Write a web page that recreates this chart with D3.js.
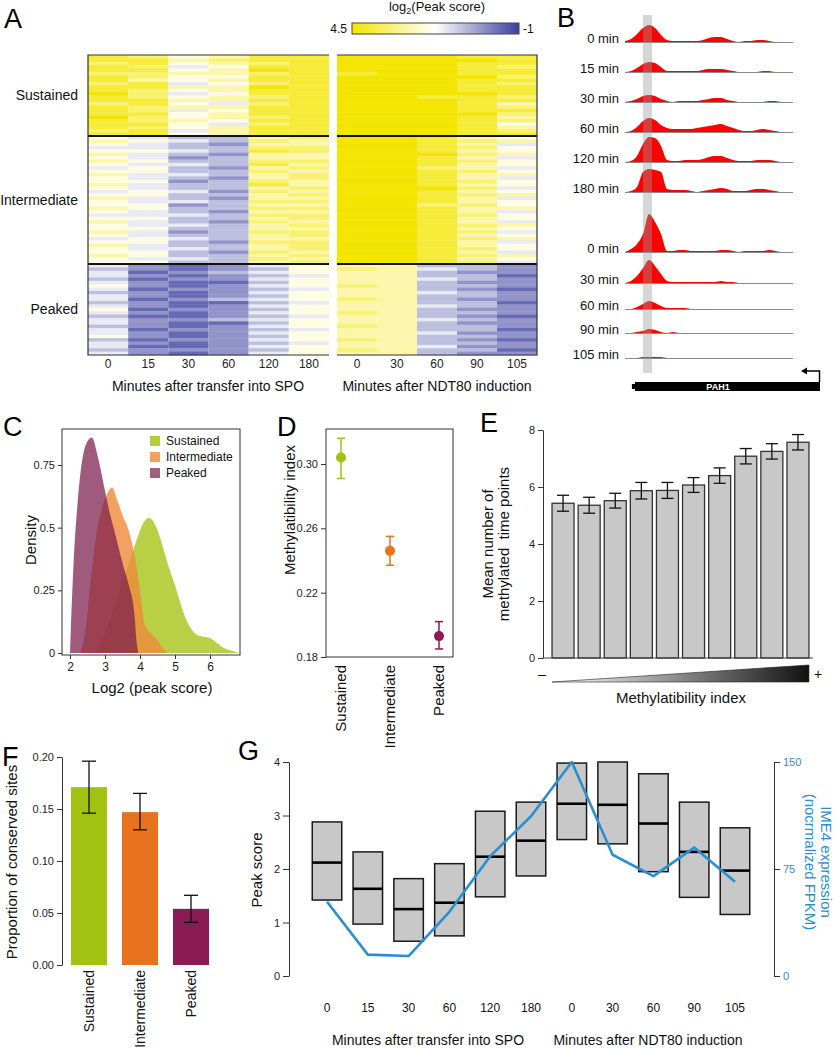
<!DOCTYPE html>
<html>
<head>
<meta charset="utf-8">
<script src="https://cdn.jsdelivr.net/npm/d3@7"></script>
<style>
  body { margin: 0; background: #fff; }
  svg { display: block; font-family: 'Liberation Sans', Arial, Helvetica, sans-serif; }
  text { white-space: pre; }
</style>
</head>
<body>
<div class="content"></div>
<script>
// ---------- data ----------
// A: heatmap, one string per row, one digit (0..9) per time point, 9 = 4.5, 0 = -1
const spoTimes = ['0', '15', '30', '60', '120', '180'];
const ndtTimes = ['0', '30', '60', '90', '105'];
const hmGroups = ['Sustained', 'Intermediate', 'Peaked'];
const hmSustained = [
  '87568899988', '88678899998', '78567899988', '87458899987', '88569899988', '77667889988',
  '87558899997', '86568899988', '78457899987', '88669899988', '87568899988', '97458899998',
  '87567899887', '88668899988', '78547899986', '87668899987', '87458899988', '88568899997',
  '97567899986', '87658899987', '88547899985', '87568899986', '78468899987', '88568899988'
];
const hmIntermediate = [
  '54336799865', '65437699876', '54326699864', '44337799875', '55438799865', '64326699976',
  '54236699864', '65337799875', '54438699865', '45326799764', '55337699875', '64436799866',
  '54326799864', '55237699875', '64338699865', '54336799974', '45427699865', '55336799876',
  '64326699864', '54437799865', '55236699775', '65337799866', '54326699864', '44437799875',
  '55336799865', '64327699864', '54436799876', '55336699865', '64237799874', '54336799865',
  '45436699876', '55327799864', '64336799865', '54436799875', '55327699864', '65336799876',
  '54437699865', '55336799874'
];
const hmPeaked = [
  '42124566332', '32123576432', '41234566322', '42123466331', '31224566432', '42113566322',
  '52124576332', '41223466321', '32124566432', '42123566332', '41234576322', '32113466331',
  '42124566432', '51223566322', '42124576332', '31123466321', '42234566432', '42113566322',
  '32124576332', '41223466331', '42124566422', '52123566332', '31224576321', '42123466332',
  '41124566422', '32223576331', '42124566322'
];
const hmLevels = [4.5, -1];

// B: coverage tracks at PAH1
const trackLabels1 = ['0 min', '15 min', '30 min', '60 min', '120 min', '180 min'];
const trackLabels2 = ['0 min', '30 min', '60 min', '90 min', '105 min'];
const trackPos = [0, 2, 4, 6, 8, 10, 12, 14, 16, 18, 20, 22, 24, 26, 28, 30, 32, 34, 36, 38, 40, 42, 44, 46, 48, 50, 52, 54, 56];
const trackCov = [
  [1, 3, 8, 14, 17, 14, 7, 2, 1, 1, 1, 1, 1, 2, 4, 5, 5, 3, 1, 0, 1, 1, 2, 2, 1, 0, 0, 0, 0],
  [0, 1, 4, 8, 10, 9, 5, 1, 1, 1, 1, 1, 1, 2, 3, 3, 3, 2, 1, 0, 0, 0, 0, 1, 1, 0, 0, 0, 0],
  [0, 1, 3, 6, 7, 6, 3, 1, 0, 1, 1, 1, 1, 2, 3, 4, 4, 2, 1, 0, 0, 0, 0, 0, 1, 1, 0, 0, 0],
  [0, 1, 5, 11, 14, 12, 7, 4, 3, 3, 3, 3, 4, 5, 6, 7, 8, 6, 4, 2, 1, 1, 2, 3, 2, 1, 0, 0, 0],
  [0, 1, 6, 18, 25, 24, 16, 2, 1, 1, 2, 2, 2, 3, 5, 6, 6, 4, 2, 1, 1, 1, 2, 2, 2, 1, 0, 0, 0],
  [0, 1, 5, 20, 23, 22, 20, 3, 2, 2, 2, 1, 0, 1, 2, 3, 4, 3, 1, 1, 1, 2, 3, 3, 2, 1, 0, 0, 0],
  [0, 3, 8, 18, 38, 30, 18, 1, 1, 2, 2, 1, 1, 1, 1, 1, 2, 2, 1, 0, 1, 1, 1, 1, 2, 1, 0, 0, 0],
  [0, 2, 7, 15, 23, 17, 9, 2, 1, 1, 1, 1, 1, 1, 1, 1, 2, 1, 1, 0, 0, 0, 0, 0, 0, 0, 0, 0, 0],
  [0, 0, 2, 5, 8, 6, 3, 1, 1, 1, 1, 0, 0, 0, 0, 0, 0, 0, 0, 0, 0, 0, 0, 0, 0, 0, 0, 0, 0],
  [0, 0, 1, 2, 4, 3, 1, 0, 1, 0, 0, 0, 0, 0, 0, 0, 0, 0, 0, 0, 0, 0, 0, 0, 0, 0, 0, 0, 0],
  [0, 0, 0, 1, 1, 1, 1, 0, 0, 0, 0, 0, 0, 0, 0, 0, 0, 0, 0, 0, 0, 0, 0, 0, 0, 0, 0, 0, 0]
];
const geneName = 'PAH1';

// C: density of log2 peak score, [x, density]
const densSustained = [[2.7, 0], [3.0, 0.08], [3.3, 0.2], [3.6, 0.32], [3.9, 0.45], [4.1, 0.52], [4.25, 0.54],
  [4.4, 0.52], [4.55, 0.47], [4.7, 0.4], [4.85, 0.33], [5.0, 0.27], [5.15, 0.2], [5.3, 0.14], [5.45, 0.1],
  [5.6, 0.075], [5.8, 0.065], [6.0, 0.06], [6.2, 0.04], [6.4, 0.02], [6.6, 0.01], [6.85, 0]];
const densIntermediate = [[2.3, 0], [2.45, 0.1], [2.6, 0.3], [2.75, 0.47], [2.9, 0.57], [3.05, 0.63], [3.2, 0.66],
  [3.35, 0.61], [3.5, 0.55], [3.65, 0.5], [3.8, 0.42], [3.95, 0.3], [4.05, 0.19], [4.12, 0.12], [4.3, 0.08],
  [4.5, 0.05], [4.65, 0.02], [4.8, 0]];
const densPeaked = [[2.0, 0], [2.03, 0.12], [2.1, 0.35], [2.2, 0.57], [2.3, 0.72], [2.45, 0.83], [2.62, 0.86],
  [2.8, 0.78], [2.95, 0.68], [3.1, 0.58], [3.3, 0.47], [3.5, 0.36], [3.7, 0.26], [3.8, 0.2], [3.85, 0.14],
  [3.9, 0.05], [3.95, 0]];

// D: methylatibility index per group
const groupNames = ['Sustained', 'Intermediate', 'Peaked'];
const groupColors = ['#a2c111', '#e8731f', '#8a1c55'];
const methIndex = [0.304, 0.246, 0.193];
const methLow = [0.291, 0.237, 0.185];
const methHigh = [0.316, 0.255, 0.202];

// E: mean number of methylated time points per methylatibility bin
const binMeans = [5.43, 5.36, 5.52, 5.87, 5.88, 6.07, 6.40, 7.08, 7.25, 7.57];
const binErr = [0.28, 0.28, 0.26, 0.29, 0.28, 0.26, 0.27, 0.27, 0.27, 0.27];

// F: proportion of conserved sites
const consProp = [0.171, 0.147, 0.054];
const consLow = [0.146, 0.130, 0.041];
const consHigh = [0.196, 0.165, 0.067];

// G: peak score boxes and IME4 expression
const gTimes = ['0', '15', '30', '60', '120', '180', '0', '30', '60', '90', '105'];
const gQ1 = [1.42, 0.97, 0.65, 0.75, 1.48, 1.87, 2.55, 2.47, 1.95, 1.47, 1.15];
const gMed = [2.12, 1.63, 1.25, 1.37, 2.23, 2.53, 3.22, 3.20, 2.85, 2.32, 1.97];
const gQ3 = [2.88, 2.32, 1.82, 2.10, 3.08, 3.25, 3.98, 4.00, 3.78, 3.25, 2.77];
const ime4 = [52, 15, 14, 45, 84, 112, 150, 85, 70, 90, 66];

function main() {
  const W = 837, H = 1050;
  const svg = d3.select('.content').append('svg').attr('width', W).attr('height', H);
  svg.append('rect').attr('width', W).attr('height', H).attr('fill', '#fff');
  const defs = svg.append('defs');

  function letter(t, x, y) {
    svg.append('text').attr('x', x).attr('y', y).attr('font-size', 27).attr('fill', '#000').text(t);
  }
  function styleAxis(g, size) {
    g.select('.domain').attr('stroke', '#333');
    g.selectAll('.tick line').attr('stroke', '#333');
    g.selectAll('.tick text').attr('font-size', size).attr('fill', '#222')
      .attr('font-family', "'Liberation Sans', Arial, sans-serif");
  }
  function label(t, x, y, size, anchor, rot, color) {
    return svg.append('text').attr('font-size', size).attr('fill', color || '#111')
      .attr('text-anchor', anchor || 'middle')
      .attr('transform', 'translate(' + x + ',' + y + ')' + (rot ? ' rotate(' + rot + ')' : ''))
      .text(t);
  }

  // ================= A: heatmap =================
  letter('A', 4, 28);
  const hmRows = hmSustained.concat(hmIntermediate, hmPeaked);
  const yHm = d3.scaleBand().domain(d3.range(hmRows.length)).range([55, 355]);
  const xSpo = d3.scaleBand().domain(d3.range(spoTimes.length)).range([88, 329]);
  const xNdt = d3.scaleBand().domain(d3.range(ndtTimes.length)).range([337, 537]);
  const hmDigit = d3.scaleLinear().domain([9, 0]).range(hmLevels);
  const hmColor = d3.scaleLinear().domain([4.5, 1.75, -1]).range(['#f3e500', '#ffffff', '#3a3f9e']);

  const gA = svg.append('g');
  hmRows.forEach((row, r) => {
    gA.selectAll(null).data(row.split('')).enter().append('rect')
      .attr('x', (d, c) => c < 6 ? xSpo(c) : xNdt(c - 6))
      .attr('y', yHm(r))
      .attr('width', (d, c) => c < 6 ? xSpo.bandwidth() : xNdt.bandwidth())
      .attr('height', yHm.bandwidth() + 0.4)
      .attr('fill', d => hmColor(hmDigit(+d)));
  });
  const cut1 = yHm(hmSustained.length), cut2 = yHm(hmSustained.length + hmIntermediate.length);
  [cut1, cut2].forEach(y => {
    [[88, 329], [337, 537]].forEach(r => {
      gA.append('line').attr('x1', r[0]).attr('x2', r[1]).attr('y1', y).attr('y2', y)
        .attr('stroke', '#111').attr('stroke-width', 2);
    });
  });
  gA.append('path').attr('d', 'M329,55 H88 V355 H329').attr('fill', 'none').attr('stroke', '#333').attr('stroke-width', 1.2);
  gA.append('path').attr('d', 'M337,55 H537 V355 H337').attr('fill', 'none').attr('stroke', '#333').attr('stroke-width', 1.2);
  const groupMid = [(55 + cut1) / 2, (cut1 + cut2) / 2, (cut2 + 355) / 2];
  hmGroups.forEach((g, i) => label(g, 78, groupMid[i] + 5, 14, 'end'));
  const axSpo = svg.append('g').attr('transform', 'translate(0,355)')
    .call(d3.axisBottom(xSpo).tickSize(0).tickPadding(4).tickFormat(i => spoTimes[i]));
  axSpo.select('.domain').remove(); styleAxis(axSpo, 12);
  const axNdt = svg.append('g').attr('transform', 'translate(0,355)')
    .call(d3.axisBottom(xNdt).tickSize(0).tickPadding(4).tickFormat(i => ndtTimes[i]));
  axNdt.select('.domain').remove(); styleAxis(axNdt, 12);
  label('Minutes after transfer into SPO', 208, 391, 14);
  label('Minutes after NDT80 induction', 437, 391, 14);
  const grad = defs.append('linearGradient').attr('id', 'cbar');
  const cbScale = d3.scaleLinear().domain([0, 1]).range(hmLevels);
  d3.range(0, 1.0001, 0.05).forEach(t => {
    grad.append('stop').attr('offset', t).attr('stop-color', hmColor(cbScale(t)));
  });
  svg.append('rect').attr('x', 352).attr('y', 23).attr('width', 167).attr('height', 11)
    .attr('fill', 'url(#cbar)').attr('stroke', '#444').attr('stroke-width', 1);
  label('4.5', 347, 33, 12, 'end');
  label('-1', 523, 33, 12, 'start');
  const cbt = svg.append('text').attr('x', 437).attr('y', 11).attr('font-size', 13).attr('text-anchor', 'middle').attr('fill', '#111');
  cbt.append('tspan').text('log');
  cbt.append('tspan').attr('font-size', 9).attr('dy', 3).text('2');
  cbt.append('tspan').attr('dy', -3).text('(Peak score)');

  // ================= B: tracks =================
  letter('B', 557, 27);
  const xTrk = d3.scaleLinear().domain([0, 56]).range([625, 793]);
  const hTrk = d3.scaleLinear().domain([0, 40]).range([0, 40]);
  const trackBaseY = [42, 72, 102, 132, 162, 192, 252, 283, 309, 333, 358];
  const trackLabels = trackLabels1.concat(trackLabels2);
  const gB = svg.append('g');
  trackCov.forEach((cov, i) => {
    const base = trackBaseY[i];
    const area = d3.area().x((d, j) => xTrk(trackPos[j])).y0(base).y1(d => base - hTrk(d)).curve(d3.curveMonotoneX);
    gB.append('line').attr('x1', xTrk(0)).attr('x2', xTrk(56)).attr('y1', base + 0.5).attr('y2', base + 0.5)
      .attr('stroke', '#8a8a8a').attr('stroke-width', 1);
    gB.append('path').attr('d', area(cov)).attr('fill', '#ff0000');
    label(trackLabels[i], 619, base + 1, 13, 'end');
  });
  gB.append('rect').attr('x', xTrk(6)).attr('y', 15).attr('width', xTrk(9) - xTrk(6)).attr('height', 358)
    .attr('fill', '#999').attr('opacity', 0.4);
  gB.append('rect').attr('x', xTrk(2.3)).attr('y', 384).attr('width', xTrk(3.5) - xTrk(2.3)).attr('height', 5).attr('fill', '#000');
  gB.append('rect').attr('x', xTrk(3.3)).attr('y', 382).attr('width', xTrk(65) - xTrk(3.3)).attr('height', 9).attr('fill', '#000');
  gB.append('text').attr('x', 718).attr('y', 390).attr('font-size', 9).attr('font-weight', 'bold')
    .attr('text-anchor', 'middle').attr('fill', '#fff').text(geneName);
  gB.append('path').attr('d', 'M819.5,382 V371 H806').attr('fill', 'none').attr('stroke', '#000').attr('stroke-width', 1.5);
  gB.append('path').attr('d', 'M801,371 L807,367.5 L807,374.5 Z').attr('fill', '#000');

  // ================= C: densities =================
  letter('C', 3, 436);
  const xC = d3.scaleLinear().domain([2, 6]).range([70, 210]);
  const yC = d3.scaleLinear().domain([0, 0.75]).range([653, 465]);
  const boxC = { x0: 62, x1: 240, y0: 429, y1: 655 };
  defs.append('clipPath').attr('id', 'clipC').append('rect')
    .attr('x', boxC.x0).attr('y', boxC.y0).attr('width', boxC.x1 - boxC.x0).attr('height', boxC.y1 - boxC.y0);
  const areaC = d3.area().x(d => xC(d[0])).y0(yC(0)).y1(d => yC(d[1])).curve(d3.curveMonotoneX);
  const gC = svg.append('g').attr('clip-path', 'url(#clipC)');
  gC.append('path').attr('d', areaC(densSustained)).attr('fill', '#b5cd3c').attr('opacity', 0.95);
  gC.append('path').attr('d', areaC(densIntermediate)).attr('fill', '#ef8a3a').attr('opacity', 0.8);
  gC.append('path').attr('d', areaC(densPeaked)).attr('fill', '#7a1a4c').attr('opacity', 0.72);
  svg.append('rect').attr('x', boxC.x0).attr('y', boxC.y0).attr('width', boxC.x1 - boxC.x0).attr('height', boxC.y1 - boxC.y0)
    .attr('fill', 'none').attr('stroke', '#333');
  const axCy = svg.append('g').attr('transform', 'translate(' + boxC.x0 + ',0)')
    .call(d3.axisLeft(yC).tickValues([0, 0.25, 0.5, 0.75]).tickFormat(d => String(d)).tickSize(4).tickSizeOuter(0));
  axCy.select('.domain').remove(); styleAxis(axCy, 11);
  const axCx = svg.append('g').attr('transform', 'translate(0,' + boxC.y1 + ')')
    .call(d3.axisBottom(xC).tickValues([2, 3, 4, 5, 6]).tickFormat(d3.format('d')).tickSize(4).tickSizeOuter(0));
  axCx.select('.domain').remove(); styleAxis(axCx, 12);
  label('Log2 (peak score)', 152, 693, 15);
  label('Density', 36, 540, 15, 'middle', -90);
  const legColors = ['#b5cd3c', '#f2a163', '#a45e83'];
  groupNames.forEach((g, i) => {
    const ly = 441 + i * 16;
    svg.append('rect').attr('x', 150).attr('y', ly - 5).attr('width', 10).attr('height', 10).attr('fill', legColors[i]);
    label(g, 166, ly + 4, 12, 'start');
  });

  // ================= D: methylatibility =================
  letter('D', 277, 436);
  const yD = d3.scaleLinear().domain([0.18, 0.30]).range([657, 464]);
  const xD = d3.scalePoint().domain(groupNames).range([341, 439]);
  svg.append('rect').attr('x', 326).attr('y', 429).attr('width', 127).attr('height', 228)
    .attr('fill', 'none').attr('stroke', '#333');
  const axD = svg.append('g').attr('transform', 'translate(326,0)')
    .call(d3.axisLeft(yD).tickValues([0.18, 0.22, 0.26, 0.30]).tickFormat(d3.format('.2f')).tickSize(5).tickSizeOuter(0));
  axD.select('.domain').remove(); styleAxis(axD, 11);
  const gD = svg.append('g');
  groupNames.forEach((g, i) => {
    const x = xD(g), c = groupColors[i];
    gD.append('line').attr('x1', x).attr('x2', x).attr('y1', yD(methLow[i])).attr('y2', yD(methHigh[i])).attr('stroke', c).attr('stroke-width', 1.5);
    [methLow[i], methHigh[i]].forEach(v => gD.append('line').attr('x1', x - 4).attr('x2', x + 4)
      .attr('y1', yD(v)).attr('y2', yD(v)).attr('stroke', c).attr('stroke-width', 1.5));
    gD.append('circle').attr('cx', x).attr('cy', yD(methIndex[i])).attr('r', 5).attr('fill', c);
    label(g, x + 5, 665, 15, 'end', -90);
  });
  label('Methylatibility index', 295, 510, 15, 'middle', -90);

  // ================= E: bars =================
  letter('E', 480, 432);
  const xE = d3.scaleBand().domain(d3.range(binMeans.length)).range([550, 811]).paddingInner(0.157).paddingOuter(0.078);
  const yE = d3.scaleLinear().domain([0, 8]).range([658, 430]);
  const gE = svg.append('g');
  gE.selectAll('rect').data(binMeans).enter().append('rect')
    .attr('x', (d, i) => xE(i)).attr('y', d => yE(d)).attr('width', xE.bandwidth()).attr('height', d => yE(0) - yE(d))
    .attr('fill', '#c8c8c8').attr('stroke', '#333').attr('stroke-width', 1.3);
  binMeans.forEach((m, i) => {
    const x = xE(i) + xE.bandwidth() / 2;
    gE.append('line').attr('x1', x).attr('x2', x).attr('y1', yE(m - binErr[i])).attr('y2', yE(m + binErr[i])).attr('stroke', '#111').attr('stroke-width', 1.3);
    [m - binErr[i], m + binErr[i]].forEach(v => gE.append('line').attr('x1', x - 6).attr('x2', x + 6)
      .attr('y1', yE(v)).attr('y2', yE(v)).attr('stroke', '#111').attr('stroke-width', 1.3));
  });
  gE.append('line').attr('x1', 543).attr('x2', 813).attr('y1', yE(0)).attr('y2', yE(0)).attr('stroke', '#444').attr('stroke-width', 1.2);
  const axE = svg.append('g').attr('transform', 'translate(543,0)')
    .call(d3.axisLeft(yE).tickValues([0, 2, 4, 6, 8]).tickFormat(d3.format('d')).tickSize(5).tickSizeOuter(0));
  styleAxis(axE, 11);
  label('Mean number of', 493, 544, 15, 'middle', -90);
  label('methylated  time points', 509, 544, 15, 'middle', -90);
  const tri = defs.append('linearGradient').attr('id', 'triGrad');
  tri.append('stop').attr('offset', 0).attr('stop-color', '#ffffff');
  tri.append('stop').attr('offset', 1).attr('stop-color', '#111111');
  const tx0 = xE(0), tx1 = xE(binMeans.length - 1) + xE.bandwidth();
  gE.append('path').attr('d', 'M' + tx0 + ',682 L' + tx1 + ',665 L' + tx1 + ',682 Z')
    .attr('fill', 'url(#triGrad)').attr('stroke', '#222').attr('stroke-width', 0.6);
  label('\u2013', 542, 679, 14);
  label('+', 818, 679, 14);
  label('Methylatibility index', 681, 703, 15);

  // ================= F: conserved sites =================
  letter('F', 2, 766);
  const yF = d3.scaleLinear().domain([0, 0.20]).range([965, 757]);
  const xF = d3.scaleBand().domain(groupNames).range([63.5, 216.5]).paddingInner(0.294).paddingOuter(0.147);
  const gF = svg.append('g');
  groupNames.forEach((g, i) => {
    const x = xF(g), cx = x + xF.bandwidth() / 2;
    gF.append('rect').attr('x', x).attr('y', yF(consProp[i])).attr('width', xF.bandwidth())
      .attr('height', yF(0) - yF(consProp[i])).attr('fill', groupColors[i]);
    gF.append('line').attr('x1', cx).attr('x2', cx).attr('y1', yF(consLow[i])).attr('y2', yF(consHigh[i])).attr('stroke', '#111').attr('stroke-width', 1.3);
    [consLow[i], consHigh[i]].forEach(v => gF.append('line').attr('x1', cx - 7).attr('x2', cx + 7)
      .attr('y1', yF(v)).attr('y2', yF(v)).attr('stroke', '#111').attr('stroke-width', 1.3));
    label(g, cx + 5, 970, 14, 'end', -90);
  });
  const axF = svg.append('g').attr('transform', 'translate(62,0)')
    .call(d3.axisLeft(yF).tickValues([0, 0.05, 0.10, 0.15, 0.20]).tickFormat(d3.format('.2f')).tickSize(5).tickSizeOuter(0));
  styleAxis(axF, 11);
  label('Proportion of conserved sites', 17, 862, 15, 'middle', -90);

  // ================= G: boxes + IME4 =================
  letter('G', 238, 760);
  const yG = d3.scaleLinear().domain([0, 4]).range([976, 762]);
  const yG2 = d3.scaleLinear().domain([0, 150]).range([976, 762]);
  const xG = d3.scalePoint().domain(d3.range(gTimes.length)).range([327, 735]);
  const bw = 29.5;
  const gG = svg.append('g');
  gTimes.forEach((t, i) => {
    const x = xG(i);
    gG.append('rect').attr('x', x - bw / 2).attr('y', yG(gQ3[i])).attr('width', bw).attr('height', yG(gQ1[i]) - yG(gQ3[i]))
      .attr('fill', '#c8c8c8').attr('stroke', '#1a1a1a').attr('stroke-width', 1.5);
    gG.append('line').attr('x1', x - bw / 2).attr('x2', x + bw / 2).attr('y1', yG(gMed[i])).attr('y2', yG(gMed[i]))
      .attr('stroke', '#000').attr('stroke-width', 2.6);
    label(t, x, 1012, 12);
  });
  const ime4Line = d3.line().x((d, i) => xG(i)).y(d => yG2(d));
  gG.append('path').attr('d', ime4Line(ime4)).attr('fill', 'none').attr('stroke', '#2a8fd2').attr('stroke-width', 2.6)
    .attr('stroke-linejoin', 'round');
  const axG = svg.append('g').attr('transform', 'translate(289,0)')
    .call(d3.axisLeft(yG).tickValues([0, 1, 2, 3, 4]).tickFormat(d3.format('d')).tickSize(6).tickSizeOuter(0));
  styleAxis(axG, 11);
  const axG2 = svg.append('g').attr('transform', 'translate(774,0)')
    .call(d3.axisRight(yG2).tickValues([0, 75, 150]).tickFormat(d3.format('d')).tickSize(6).tickSizeOuter(0));
  styleAxis(axG2, 11);
  axG2.selectAll('.tick text').attr('fill', '#2a8fd2');
  label('Peak score', 262, 870, 15, 'middle', -90);
  label('IME4 expression', 821, 862, 15, 'middle', 90, '#2a8fd2');
  label('(nocrmalized FPKM)', 805, 862, 15, 'middle', 90, '#2a8fd2');
  label('Minutes after transfer into SPO', 428, 1045, 14);
  label('Minutes after NDT80 induction', 648, 1045, 14);
}
main();
</script>
</body>
</html>
